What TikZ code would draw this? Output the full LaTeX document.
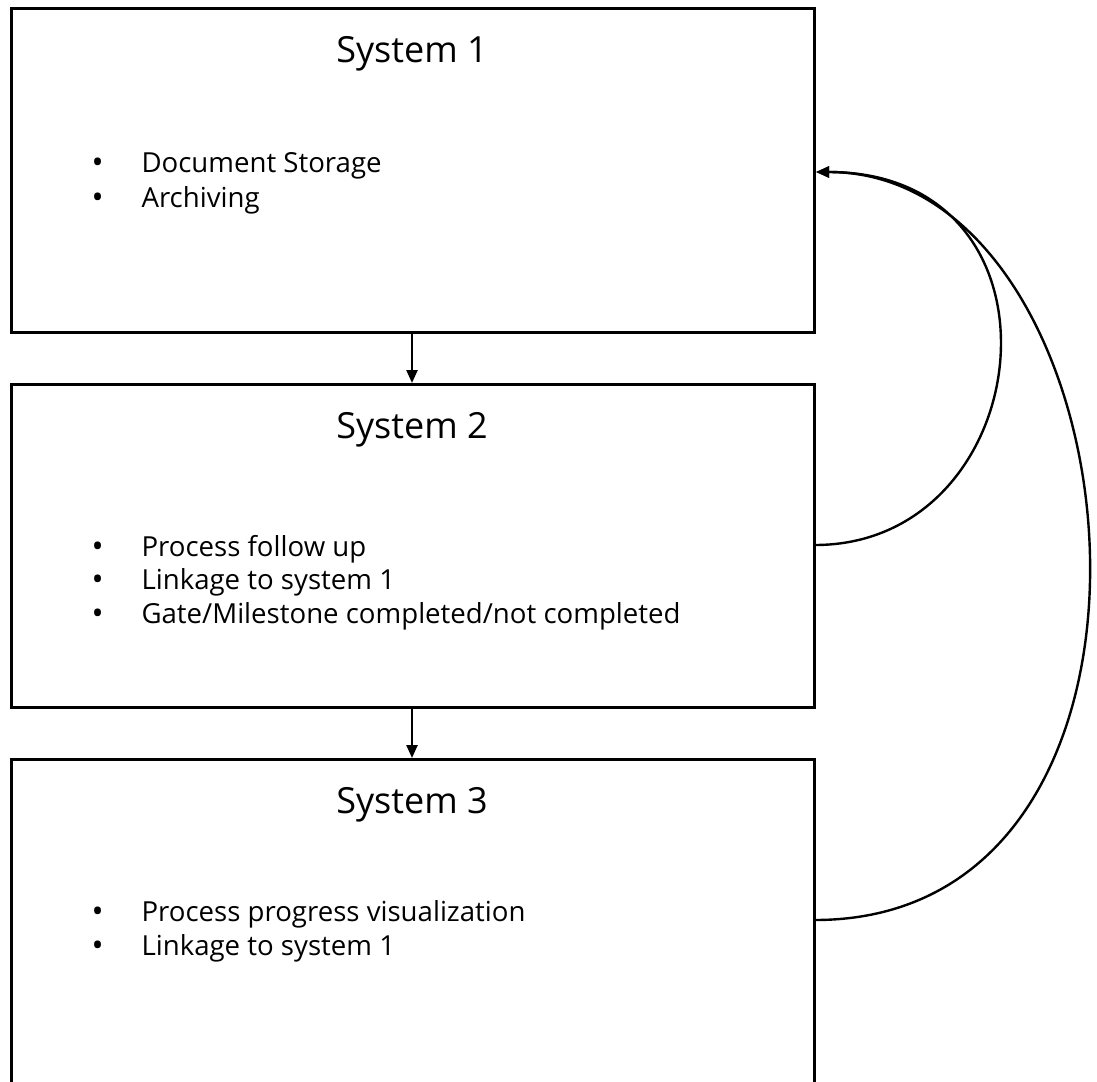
\documentclass[tikz,border=0pt]{standalone}
\usepackage{fontspec}
\setmainfont{Open Sans}
\usetikzlibrary{arrows.meta}
\begin{document}
\begin{tikzpicture}[x=1pt,y=-1pt,
  sysbox/.style={draw=black,line width=3pt,fill=none},
  title/.style={font=\fontsize{36}{40}\selectfont,anchor=base},
  item/.style={font=\fontsize{27.6}{32}\selectfont,anchor=base west},
  dot/.style={font=\fontsize{32}{32}\selectfont,anchor=base west},
  flow/.style={draw=black,line width=2.4pt,-{Triangle[length=13pt,width=11pt]}},
  link/.style={draw=black,line width=2.4pt,-{Triangle[length=13pt,width=11pt]}}]
\useasboundingbox (0,0) rectangle (1097,1081);
\begin{scope}
\clip (0,0) rectangle (1097,1081);
% three system boxes
\draw[sysbox] (11,9) rectangle (814,332);
\draw[sysbox] (11,384) rectangle (814,707);
\draw[sysbox] (11,759) rectangle (814,1090);
\end{scope}
\coordinate (b1bot) at (412,333);
\coordinate (b2top) at (412,383);
\coordinate (b2bot) at (412,708);
\coordinate (b3top) at (412,758);
\coordinate (b1in) at (816,172);
\coordinate (b2out) at (815,545);
\coordinate (b3out) at (815,920);
% titles
\node[title] (t1) at (412,63) {System 1};
\node[title] (t2) at (412,438) {System 2};
\node[title] (t3) at (412,813) {System 3};
% bullet lists
\foreach \y/\txt [count=\i] in {172/{Document Storage},207/{Archiving}}{
  \node[item] (a\i) at (138,\y) {\txt};
  \node[dot] (ab\i) at (88,\y+1) {•};}
\foreach \y/\txt [count=\i] in {556/{Process follow up},589/{Linkage to system 1},623/{Gate/Milestone completed/not completed}}{
  \node[item] (c\i) at (138,\y) {\txt};
  \node[dot] (cb\i) at (88,\y+1) {•};}
\foreach \y/\txt [count=\i] in {921/{Process progress visualization},955/{Linkage to system 1}}{
  \node[item] (d\i) at (138,\y) {\txt};
  \node[dot] (db\i) at (88,\y+1) {•};}
% vertical flow arrows
\draw[flow] (b1bot) -- (b2top);
\draw[flow] (b2bot) -- (b3top);
% feedback links to system 1
\draw[link] (b2out) .. controls (1040,545) and (1080,172) .. (b1in);
\draw[link] (b3out) .. controls (1215,920) and (1143,172) .. (b1in);
\end{tikzpicture}
\end{document}
